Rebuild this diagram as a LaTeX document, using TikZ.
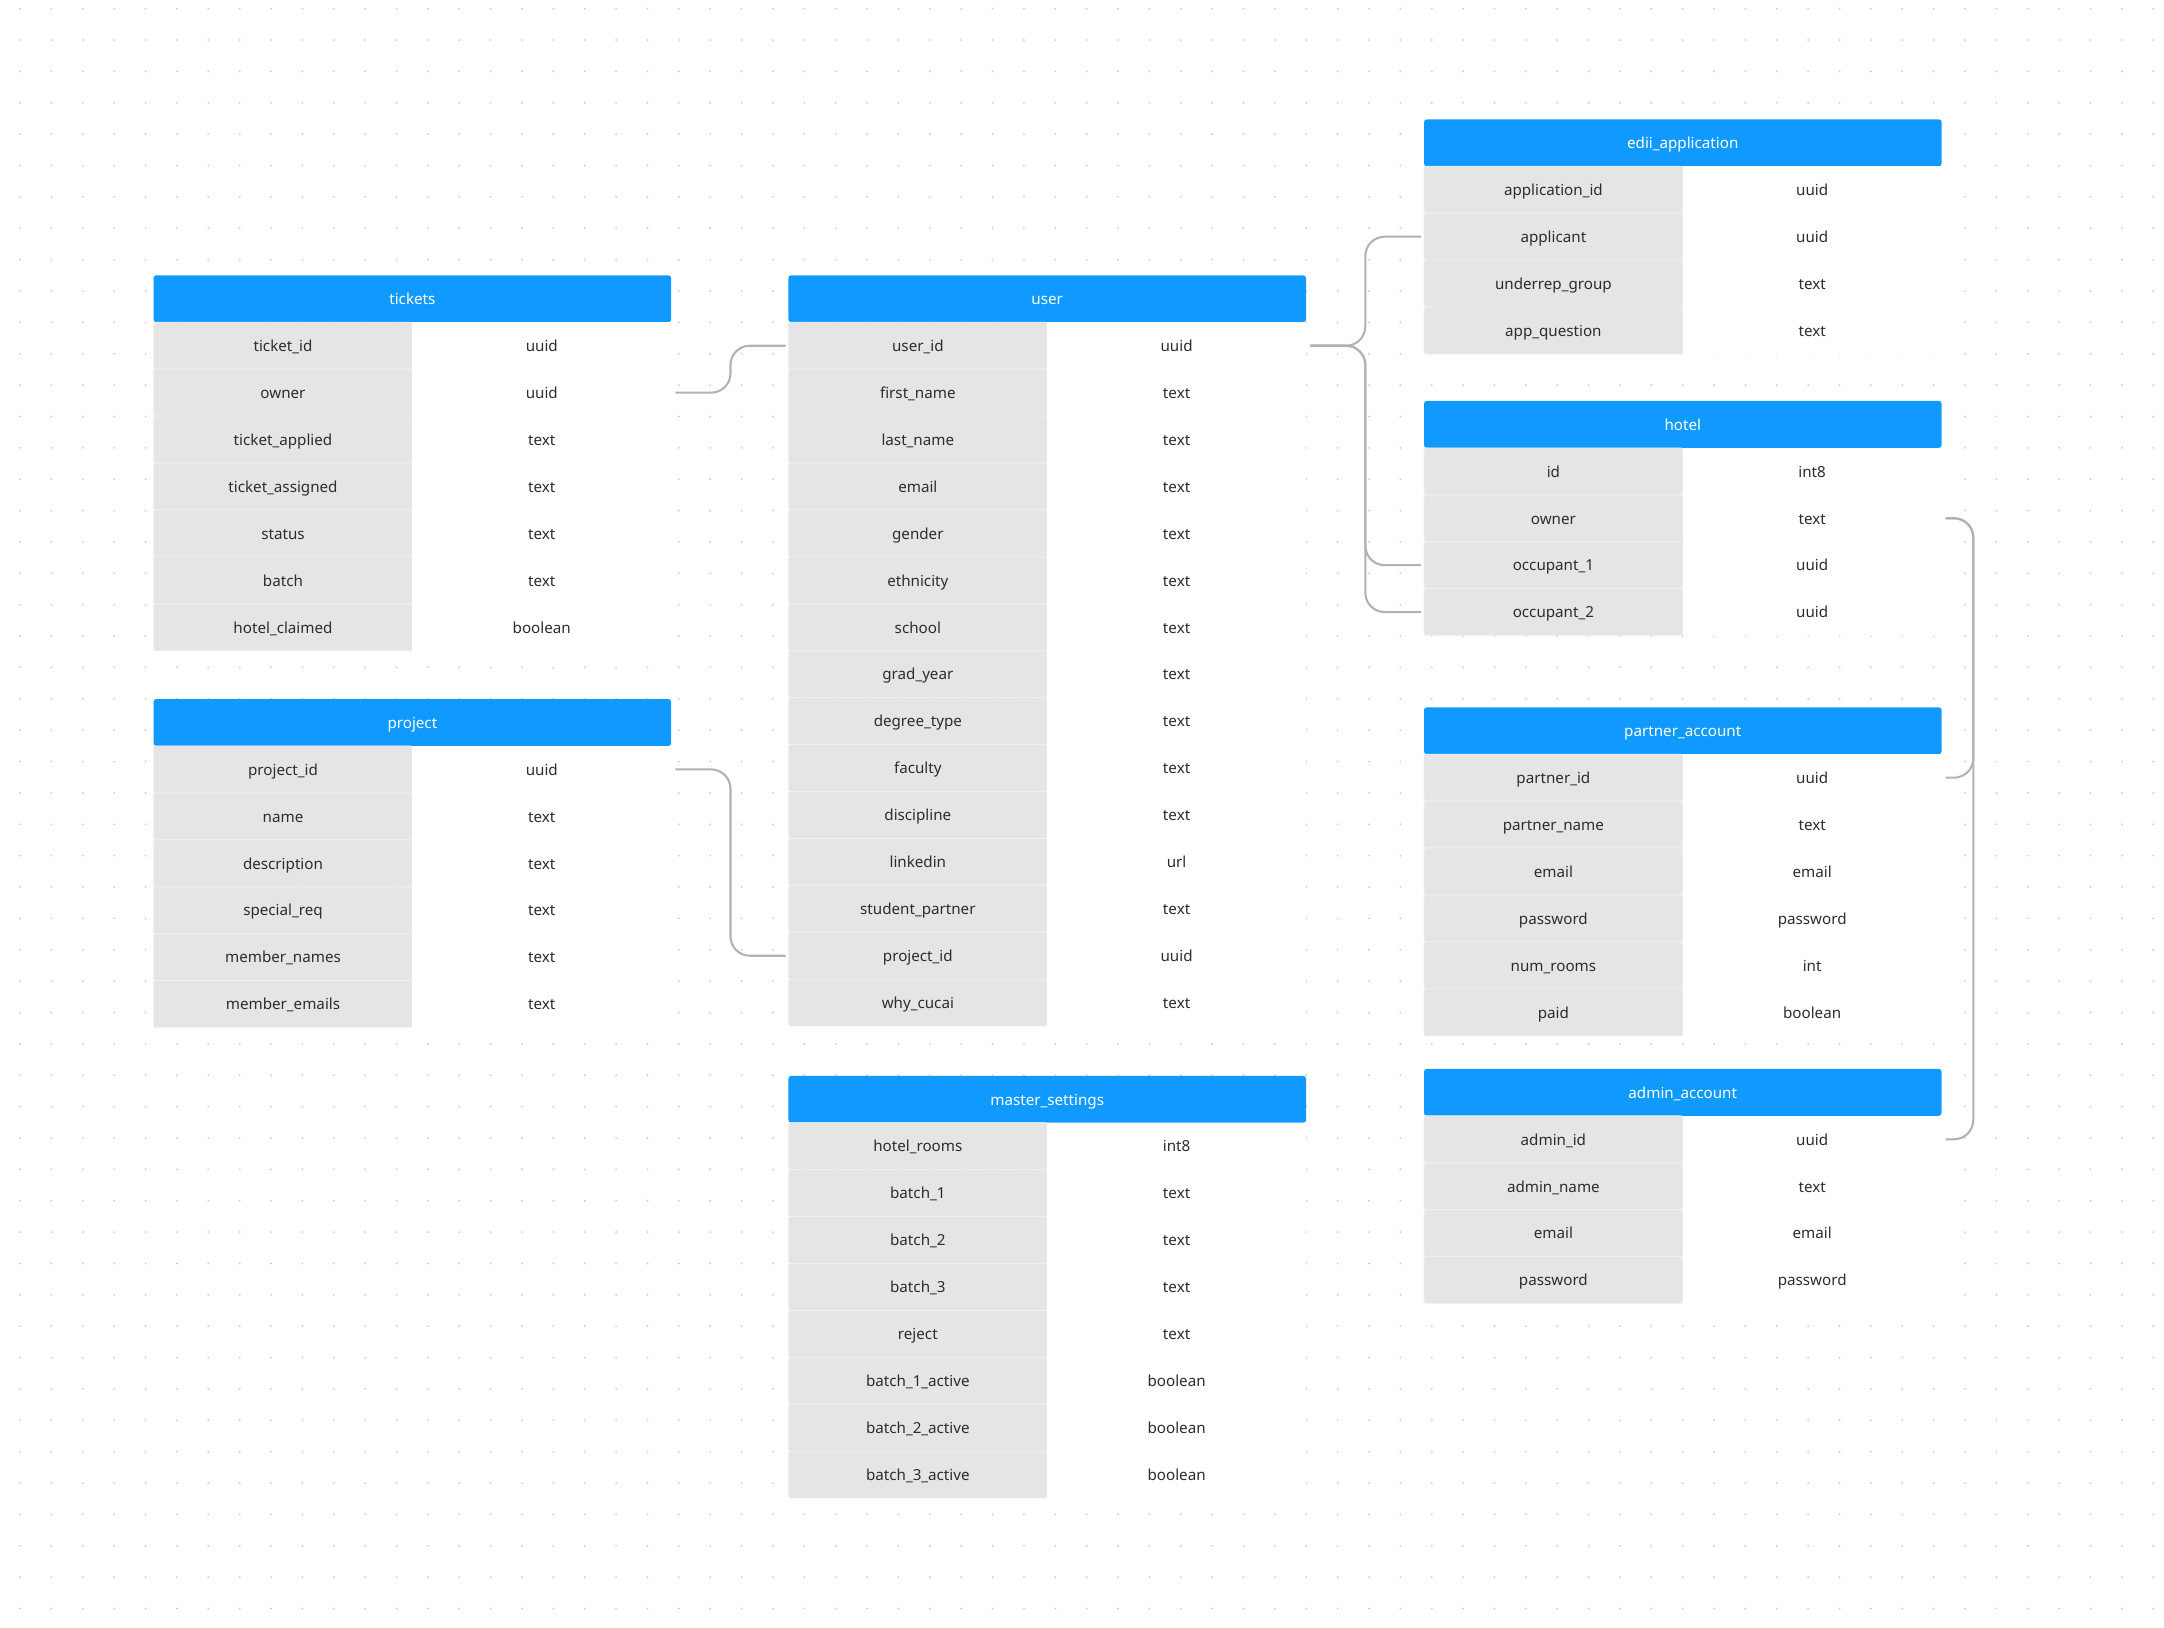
\documentclass[tikz,border=0pt]{standalone}
\usepackage{fontspec}
\setmainfont{Noto Sans}
\usetikzlibrary{positioning}

\definecolor{headblue}{RGB}{16,154,255}
\definecolor{cellgray}{RGB}{229,229,229}
\definecolor{cellline}{RGB}{240,240,240}
\definecolor{linkgray}{RGB}{178,178,178}
\definecolor{dotgray}{RGB}{205,205,205}
\definecolor{fieldtext}{RGB}{45,45,45}

\tikzset{
  tablehead/.style={anchor=north west, fill=headblue, text=white, rounded corners=2pt,
    minimum width=375pt, minimum height=34pt, inner sep=0pt, outer sep=0pt,
    text height=9.6pt, text depth=1.2pt},
  keycell/.style={fill=cellgray, draw=cellline, line width=0.5pt, rounded corners=1.5pt, text=fieldtext,
    minimum width=187.5pt, minimum height=34pt, inner sep=0pt, outer sep=0pt,
    text height=9.6pt, text depth=1.2pt},
  typecell/.style={fill=white, text=fieldtext,
    minimum width=187.5pt, minimum height=34pt, inner sep=0pt, outer sep=0pt,
    text height=9.6pt, text depth=1.2pt},
  link/.style={draw=linkgray, line width=1.5pt, rounded corners=14pt},
}

\newcommand\erdtable[4]{%
  \node[tablehead, #2] (#1) {#3};
  \gdef\prevrow{#1}%
  \foreach \fname/\ftype [count=\i] in {#4} {
    \node[keycell, below right=0pt and 0pt of \prevrow.south west] (#1-\i) {\fname};
    \node[typecell, right=0pt of #1-\i] (#1-t\i) {\ftype};
    \xdef\prevrow{#1-\i}
  }%
}

\begin{document}
\begin{tikzpicture}[x=1pt, y=-1pt, font=\fontsize{11}{13}\selectfont]
\useasboundingbox (0,0) rectangle (1568,1179.6);
\fill[white] (0,0) rectangle (1568,1179.6);
\foreach \i in {0,...,68}
  \foreach \j in {0,...,51}
    \fill[dotgray] (14.56+\i*22.73, 6.28+\j*22.73) circle (0.75pt);

\erdtable{tickets}{at={(111.3,199.5)}}{tickets}{ticket\_id/uuid, owner/uuid, ticket\_applied/text,
  ticket\_assigned/text, status/text, batch/text, hotel\_claimed/boolean}
\erdtable{project}{below right=35pt and 0pt of tickets-7.south west}{project}{project\_id/uuid,
  name/text, description/text, special\_req/text, member\_names/text, member\_emails/text}
\erdtable{user}{right=85pt of tickets}{user}{user\_id/uuid, first\_name/text, last\_name/text,
  email/text, gender/text, ethnicity/text, school/text, grad\_year/text, degree\_type/text,
  faculty/text, discipline/text, linkedin/url, student\_partner/text, project\_id/uuid, why\_cucai/text}
\erdtable{master}{below right=36pt and 0pt of user-15.south west}{master\_settings}{hotel\_rooms/int8,
  batch\_1/text, batch\_2/text, batch\_3/text, reject/text, batch\_1\_active/boolean,
  batch\_2\_active/boolean, batch\_3\_active/boolean}
\erdtable{edii}{at={(1031.8,86.5)}}{edii\_application}{application\_id/uuid, applicant/uuid,
  underrep\_group/text, app\_question/text}
\erdtable{hotel}{below right=34pt and 0pt of edii-4.south west}{hotel}{id/int8, owner/text,
  occupant\_1/uuid, occupant\_2/uuid}
\erdtable{partner}{below right=52pt and 0pt of hotel-4.south west}{partner\_account}{partner\_id/uuid,
  partner\_name/text, email/email, password/password, num\_rooms/int, paid/boolean}
\erdtable{admin}{below right=24pt and 0pt of partner-6.south west}{admin\_account}{admin\_id/uuid,
  admin\_name/text, email/email, password/password}

\draw[link] ([xshift=3pt]tickets-t2.east) -- ++(40,0) |- ([xshift=-2pt]user-1.west);
\draw[link] ([xshift=3pt]project-t1.east) -- ++(40,0) |- ([xshift=-2pt]user-14.west);
\draw[link] ([xshift=3pt]user-t1.east) -- ++(40,0) |- ([xshift=-2pt]edii-2.west);
\draw[link] ([xshift=3pt]user-t1.east) -- ++(40,0) |- ([xshift=-2pt]hotel-3.west);
\draw[link] ([xshift=3pt]user-t1.east) -- ++(40,0) |- ([xshift=-2pt]hotel-4.west);
\draw[link] ([xshift=3pt]hotel-t2.east) -- ++(20,0) |- ([xshift=3pt]partner-t1.east);
\draw[link] ([xshift=3pt]hotel-t2.east) -- ++(20,0) |- ([xshift=3pt]admin-t1.east);
\end{tikzpicture}
\end{document}
